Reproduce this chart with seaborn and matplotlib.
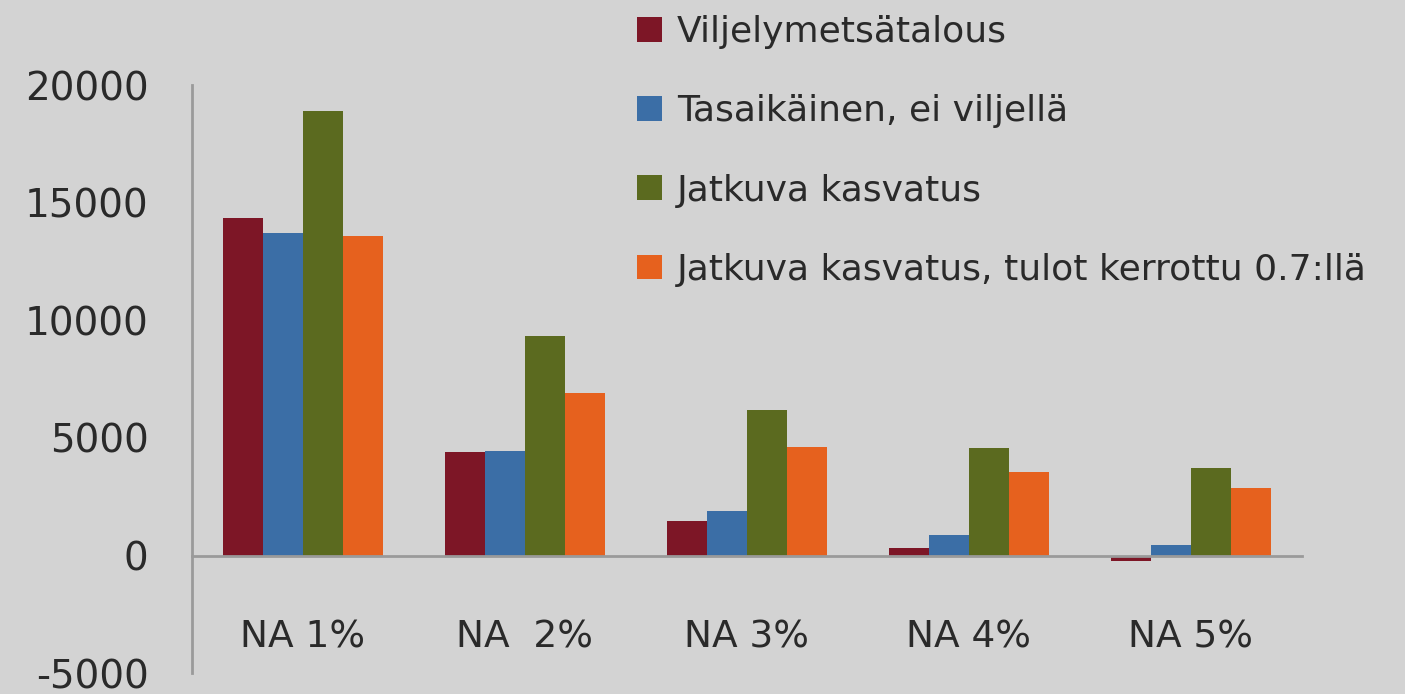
import pandas as pd
import matplotlib.pyplot as plt
import seaborn as sns

categories = ["NA 1%", "NA  2%", "NA 3%", "NA 4%", "NA 5%"]
series_names = [
    "Viljelymetsätalous",
    "Tasaikäinen, ei viljellä",
    "Jatkuva kasvatus",
    "Jatkuva kasvatus, tulot kerrottu 0.7:llä",
]
viljely = [14350, 4420, 1480, 300, -250]
tasaikainen = [13700, 4450, 1890, 880, 460]
jatkuva = [18900, 9330, 6180, 4580, 3700]
jatkuva_07 = [13600, 6890, 4620, 3530, 2860]
yticks = [-5000, 0, 5000, 10000, 15000, 20000]

colors = ["#7d1626", "#3b6ea6", "#5b6a1f", "#e6611e"]
bg = "#d3d3d3"
txt = "#2a2a2a"

rows = []
for name, vals in zip(series_names, [viljely, tasaikainen, jatkuva, jatkuva_07]):
    for cat, v in zip(categories, vals):
        rows.append({"cat": cat, "series": name, "value": v})
df = pd.DataFrame(rows)

sns.set_style("white")
plt.rcParams["font.family"] = ["DejaVu Sans"]

fig = plt.figure(figsize=(14.05, 6.94), dpi=100, facecolor=bg)
ax = fig.add_axes([0.1365, 0.03, 0.79, 0.8475])
ax.set_facecolor(bg)

sns.barplot(data=df, x="cat", y="value", hue="series", palette=colors,
            width=0.72, saturation=1, linewidth=0, ax=ax, errorbar=None)

ax.set_ylim(-5000, 20000)
ax.set_yticks(yticks)
ax.set_yticklabels([str(t) for t in yticks])
ax.set_xticks(range(len(categories)))
ax.set_xticklabels(categories)
ax.set_xlabel("")
ax.set_ylabel("")
ax.tick_params(axis='y', labelsize=28, length=0, pad=31, colors=txt)
ax.tick_params(axis='x', labelsize=27, length=0, pad=46, colors=txt)
ax.spines['top'].set_visible(False)
ax.spines['right'].set_visible(False)
ax.spines['left'].set_color("#9a9a9a")
ax.spines['left'].set_linewidth(2)
ax.spines['bottom'].set_position(('data', 0))
ax.spines['bottom'].set_color("#9a9a9a")
ax.spines['bottom'].set_linewidth(2)

handles, labels = ax.get_legend_handles_labels()
ax.legend(handles, labels, loc="upper left", bbox_to_anchor=(0.4534, 0.978),
          bbox_transform=fig.transFigure, frameon=False, fontsize=26,
          borderpad=0, borderaxespad=0,
          handlelength=0.7, handleheight=0.68, handletextpad=0.4,
          labelspacing=1.25, labelcolor=txt)

fig.savefig("out.png", dpi=100, facecolor=bg)
